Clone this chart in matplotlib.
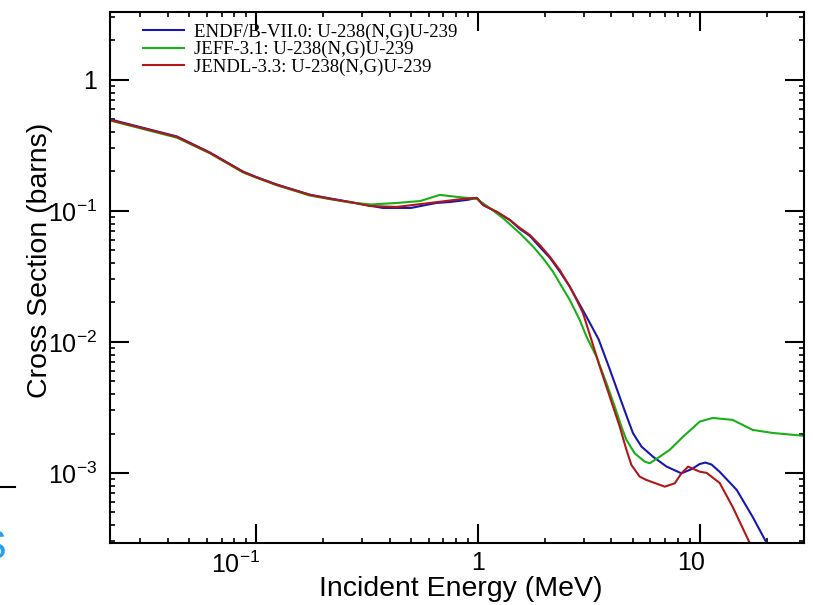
import matplotlib
matplotlib.use('Agg')
import matplotlib.pyplot as plt
from matplotlib.lines import Line2D
from matplotlib.transforms import ScaledTranslation
from matplotlib.ticker import LogLocator, NullFormatter

plt.rcParams['font.family'] = ['Liberation Sans', 'DejaVu Sans']
plt.rcParams['mathtext.fontset'] = 'custom'
plt.rcParams['mathtext.rm'] = 'Liberation Sans'
plt.rcParams['mathtext.it'] = 'Liberation Sans:italic'

# ENDF/B-VII.0 (blue)
endf_e = [0.022, 0.0441, 0.0621, 0.0874, 0.1, 0.1243, 0.175, 0.265, 0.373, 0.50, 0.65, 0.748,
          0.90, 0.99, 1.056, 1.218, 1.393, 1.546, 1.715, 1.902, 2.11, 2.34, 2.597, 3.087, 3.5,
          3.93, 4.407, 4.753, 5.005, 5.464, 6.16, 7.08, 8.27, 9.2, 10.0, 10.6, 11.3, 12.3, 14.68,
          17.33, 20.03, 21.5]
endf_xs = [0.500, 0.370, 0.279, 0.200, 0.182, 0.159, 0.133, 0.117, 0.1054, 0.1054, 0.115, 0.117,
           0.1215, 0.1257, 0.111, 0.0983, 0.0854, 0.0729, 0.0645, 0.0531, 0.0440, 0.0345, 0.0264,
           0.0156, 0.0105, 0.0062, 0.00361, 0.00254, 0.00201, 0.00159, 0.00133, 0.00112, 0.000993,
           0.00107, 0.00117, 0.00120, 0.00116, 0.00102, 0.000742, 0.000461, 0.000292, 0.00022]

# JEFF-3.1 (green)
jeff_e = [0.022, 0.0441, 0.0621, 0.0874, 0.1, 0.1243, 0.175, 0.265, 0.33, 0.4315, 0.55, 0.674,
          0.804, 0.99, 1.133, 1.30, 1.546, 1.775, 1.968, 2.18, 2.34, 2.597, 2.88, 3.087, 3.425,
          3.80, 4.141, 4.437, 4.675, 5.096, 5.655, 5.955, 6.60, 7.32, 8.41, 10.0, 11.45, 14.08,
          17.33, 21.3, 29.5]
jeff_xs = [0.490, 0.362, 0.275, 0.197, 0.180, 0.157, 0.131, 0.116, 0.112, 0.115, 0.119, 0.1325,
           0.128, 0.1235, 0.105, 0.088, 0.0676, 0.0534, 0.0435, 0.0344, 0.0281, 0.0209, 0.0147,
           0.011, 0.00772, 0.00484, 0.00321, 0.002257, 0.001786, 0.00141, 0.00122, 0.001186,
           0.00133, 0.0015, 0.00189, 0.002465, 0.00263, 0.00254, 0.00213, 0.00202, 0.00192]

# JENDL-3.3 (red)
jendl_e = [0.022, 0.0441, 0.0621, 0.0874, 0.1, 0.1243, 0.175, 0.2155, 0.265, 0.326, 0.4315, 0.608,
           0.856, 0.99, 1.056, 1.218, 1.393, 1.546, 1.715, 1.902, 2.11, 2.34, 2.597, 2.79, 2.98,
           3.251, 3.544, 3.93, 4.36, 4.675, 4.922, 5.366, 5.75, 6.96, 7.72, 8.27, 8.86, 10.0,
           10.75, 12.3, 14.08, 16.8, 18.5]
jendl_xs = [0.495, 0.367, 0.277, 0.1985, 0.181, 0.158, 0.1325, 0.1235, 0.117, 0.109, 0.1073, 0.115,
            0.1235, 0.1257, 0.111, 0.0983, 0.0854, 0.0742, 0.0656, 0.055, 0.0448, 0.0354, 0.0264,
            0.0209, 0.01656, 0.01036, 0.00648, 0.00383, 0.002257, 0.0015, 0.00115, 0.000937,
            0.000884, 0.000786, 0.000834, 0.000993, 0.001117, 0.001023, 0.00100, 0.000839,
            0.00055, 0.000292, 0.0002]

labels = ['ENDF/B-VII.0: U-238(N,G)U-239',
          'JEFF-3.1: U-238(N,G)U-239',
          'JENDL-3.3: U-238(N,G)U-239']
colors = ['#1818b0', '#18b018', '#b01818']

xticks = [0.1, 1, 10]
xticklabels = [r'$\mathregular{10^{-1}}$', '1', '10']
yticks = [1e-3, 1e-2, 1e-1, 1]
yticklabels = [r'$\mathregular{10^{-3}}$', r'$\mathregular{10^{-2}}$', r'$\mathregular{10^{-1}}$', '1']

fig = plt.figure(figsize=(8.13, 6.05), dpi=100)
ax = fig.add_axes([0.1353, 0.1025, 0.8536, 0.8777])

series = [(endf_e, endf_xs), (jeff_e, jeff_xs), (jendl_e, jendl_xs)]
for (e, xs), lab, c in zip(series, labels, colors):
    ax.plot(e, xs, color=c, lw=1.5, label=lab)

ax.set_xscale('log')
ax.set_yscale('log')
ax.set_xlim(0.022, 29.5)
ax.set_ylim(2.92e-4, 3.3)

ax.set_xticks(xticks, labels=xticklabels)
ax.set_yticks(yticks, labels=yticklabels)
ax.xaxis.set_minor_locator(LogLocator(base=10, subs=range(2, 10), numticks=20))
ax.yaxis.set_minor_locator(LogLocator(base=10, subs=range(2, 10), numticks=20))
ax.xaxis.set_minor_formatter(NullFormatter())
ax.yaxis.set_minor_formatter(NullFormatter())
ax.tick_params(which='both', direction='in', top=True, right=True, labelsize=18)
ax.tick_params(which='major', length=14, width=1.5)
ax.tick_params(which='minor', length=3.5, width=1.2)
ax.tick_params(axis='x', which='major', pad=6)
ax.tick_params(axis='y', which='major', pad=9)
for s in ax.spines.values():
    s.set_linewidth(1.5)

# shift some x tick labels to the left as in the original
shifts = [-20, 0, -9]
for t, dx in zip(ax.xaxis.get_major_ticks(), shifts):
    t.label1.set_transform(t.label1.get_transform() + ScaledTranslation(dx / 100, 0, fig.dpi_scale_trans))

ax.set_xlabel('Incident Energy (MeV)', fontsize=20.5)
ax.set_ylabel('Cross Section (barns)', fontsize=20.5)
ax.xaxis.set_label_coords(0.506, -0.062)
ax.yaxis.set_label_coords(-0.082, 0.533)

ax.legend(loc='upper left', bbox_to_anchor=(0.0476, 0.978), frameon=False, borderpad=0,
          borderaxespad=0, handlelength=2.2, handletextpad=0.5, labelspacing=0.0,
          prop={'family': 'Liberation Serif', 'size': 13.5})

# crop remnants at the left edge
fig.add_artist(Line2D([0, 15 / 813], [1 - 487 / 605, 1 - 487 / 605], color='black', lw=1.5))
fig.text(6 / 813, 1 - 548 / 605, 'S', color='#2a9df4', fontsize=30, ha='right', va='center')

fig.savefig('out.png', dpi=100)
